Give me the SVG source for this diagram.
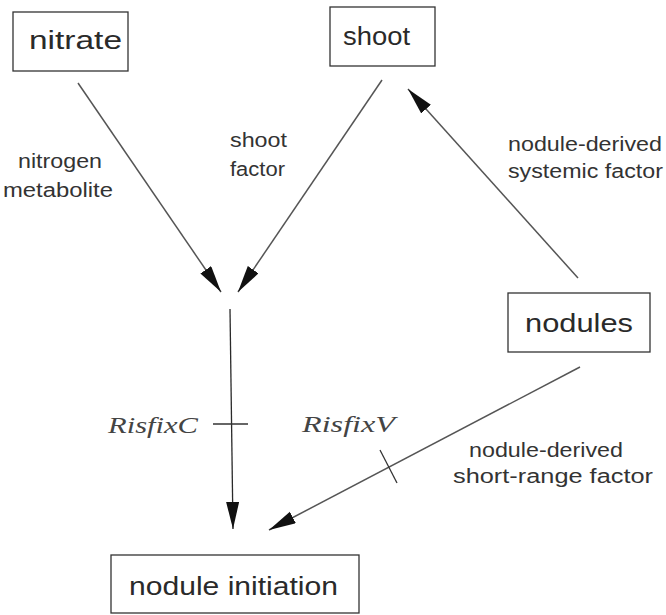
<svg xmlns="http://www.w3.org/2000/svg" width="666" height="615" viewBox="0 0 666 615">
  <style>
    .box { fill: #fff; stroke: #333; stroke-width: 1.3; }
    .node { font-family: "Liberation Sans", Arial, sans-serif; font-size: 26px; fill: #2a2a2a; }
    .lbl { font-family: "Liberation Sans", Arial, sans-serif; font-size: 20px; fill: #333; }
    .gene { font-family: "Liberation Serif", "DejaVu Serif", serif; font-style: italic; font-size: 24px; fill: #444; }
    .edge { stroke: #555; stroke-width: 1.5; fill: none; }
    .edge2 { stroke: #2a2a2a; stroke-width: 1.3; fill: none; }
    .tick { stroke: #333; stroke-width: 1.3; }
  </style>
  <defs>
    <marker id="ah" markerUnits="userSpaceOnUse" markerWidth="28" markerHeight="14" refX="27" refY="6.5" orient="auto">
      <path d="M0,0 L27,6.5 L0,13 Z" fill="#111"/>
    </marker>
  </defs>
  <rect width="666" height="615" fill="#fff"/>

  <g id="nitrate">
    <rect class="box" x="13" y="12" width="115" height="59"/>
    <text class="node" x="29" y="49" textLength="93" lengthAdjust="spacingAndGlyphs">nitrate</text>
  </g>
  <g id="shoot">
    <rect class="box" x="330" y="7" width="105" height="59"/>
    <text class="node" x="343" y="45" textLength="67" lengthAdjust="spacingAndGlyphs">shoot</text>
  </g>
  <g id="nodules">
    <rect class="box" x="508" y="293" width="142" height="59"/>
    <text class="node" x="525" y="332" textLength="108" lengthAdjust="spacingAndGlyphs">nodules</text>
  </g>
  <g id="nodule-initiation">
    <rect class="box" x="111" y="555" width="248" height="58"/>
    <text class="node" x="129" y="595" textLength="209" lengthAdjust="spacingAndGlyphs">nodule initiation</text>
  </g>

  <g id="connectors">
    <line class="edge" x1="78" y1="83" x2="221" y2="292" marker-end="url(#ah)"/>
    <line class="edge" x1="382" y1="80" x2="238" y2="292" marker-end="url(#ah)"/>
    <line class="edge" x1="578" y1="278" x2="408" y2="89" marker-end="url(#ah)"/>
    <line class="edge2" x1="230" y1="309" x2="233" y2="529" marker-end="url(#ah)"/>
    <line class="edge" x1="580" y1="367" x2="269" y2="530" marker-end="url(#ah)"/>
    <line class="tick" x1="213" y1="424" x2="248" y2="424"/>
    <line class="tick" x1="380" y1="450" x2="397" y2="483"/>
  </g>

  <g id="labels">
    <text class="lbl" x="18" y="168" textLength="84" lengthAdjust="spacingAndGlyphs">nitrogen</text>
    <text class="lbl" x="3" y="197" textLength="110" lengthAdjust="spacingAndGlyphs">metabolite</text>
    <text class="lbl" x="230" y="147" textLength="57" lengthAdjust="spacingAndGlyphs">shoot</text>
    <text class="lbl" x="230" y="176" textLength="55" lengthAdjust="spacingAndGlyphs">factor</text>
    <text class="lbl" x="508" y="151" textLength="154" lengthAdjust="spacingAndGlyphs">nodule-derived</text>
    <text class="lbl" x="508" y="178" textLength="155" lengthAdjust="spacingAndGlyphs">systemic factor</text>
    <text class="lbl" x="469" y="457" textLength="154" lengthAdjust="spacingAndGlyphs">nodule-derived</text>
    <text class="lbl" x="453" y="483" textLength="200" lengthAdjust="spacingAndGlyphs">short-range factor</text>
    <text class="gene" x="108" y="433" textLength="90" lengthAdjust="spacingAndGlyphs">RisfixC</text>
    <text class="gene" x="302" y="432" textLength="93" lengthAdjust="spacingAndGlyphs">RisfixV</text>
  </g>
</svg>
